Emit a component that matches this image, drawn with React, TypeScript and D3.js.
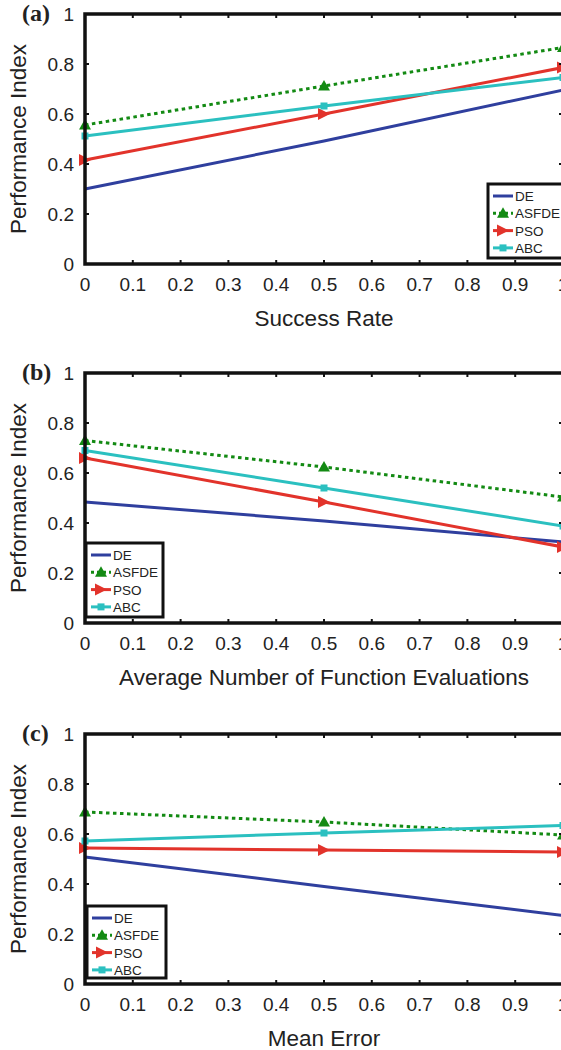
import React from "react";
import * as d3 from "d3";

const xs = [0, 0.5, 1];
const seriesNames = ["DE", "ASFDE", "PSO", "ABC"];
const colors = ["#2f3f9e", "#138a13", "#e2332b", "#2bc0c0"];

const panelA_DE = [0.3, 0.492, 0.696];
const panelA_ASFDE = [0.556, 0.712, 0.866];
const panelA_PSO = [0.416, 0.6, 0.786];
const panelA_ABC = [0.512, 0.632, 0.746];

const panelB_DE = [0.484, 0.408, 0.324];
const panelB_ASFDE = [0.73, 0.624, 0.504];
const panelB_PSO = [0.66, 0.484, 0.304];
const panelB_ABC = [0.69, 0.54, 0.388];

const panelC_DE = [0.508, 0.39, 0.274];
const panelC_ASFDE = [0.688, 0.648, 0.596];
const panelC_PSO = [0.544, 0.536, 0.528];
const panelC_ABC = [0.572, 0.604, 0.634];

const xTicks = [0, 0.1, 0.2, 0.3, 0.4, 0.5, 0.6, 0.7, 0.8, 0.9, 1];
const yTicks = [0, 0.2, 0.4, 0.6, 0.8, 1];

const panels = [
  { label: "(a)", xTitle: "Success Rate", data: [panelA_DE, panelA_ASFDE, panelA_PSO, panelA_ABC], top: 14, legend: { x: 488, y: 184, w: 90, h: 74 } },
  { label: "(b)", xTitle: "Average Number of Function Evaluations", data: [panelB_DE, panelB_ASFDE, panelB_PSO, panelB_ABC], top: 373, legend: { x: 86, y: 543, w: 77, h: 74 } },
  { label: "(c)", xTitle: "Mean Error", data: [panelC_DE, panelC_ASFDE, panelC_PSO, panelC_ABC], top: 734, legend: { x: 87, y: 906, w: 79, h: 72 } },
];

const X0 = 85;
const X1 = 563;
const H = 250;

function Marker({ kind, x, y, color }: { kind: number; x: number; y: number; color: string }) {
  if (kind === 1) {
    const s = 6;
    return <path d={`M${x},${y - s} L${x + s},${y + s * 0.75} L${x - s},${y + s * 0.75} Z`} fill={color} />;
  }
  if (kind === 2) {
    const s = 6;
    return <path d={`M${x + s},${y} L${x - s},${y - s} L${x - s},${y + s} Z`} fill={color} />;
  }
  if (kind === 3) {
    return <rect x={x - 3.5} y={y - 3.5} width={7} height={7} fill={color} />;
  }
  return null;
}

function Panel({ p }: { p: (typeof panels)[number] }) {
  const x = d3.scaleLinear().domain([0, 1]).range([X0, X1]);
  const y = d3.scaleLinear().domain([0, 1]).range([p.top + H, p.top]);
  const line = d3
    .line<number>()
    .x((_, i) => x(xs[i]))
    .y((d) => y(d));
  const font = "Liberation Sans, Arial, sans-serif";
  const lg = p.legend;
  return (
    <g>
      {p.data.map((vals, si) => (
        <g key={si}>
          <path
            d={line(vals) || ""}
            fill="none"
            stroke={colors[si]}
            strokeWidth={3}
            strokeDasharray={si === 1 ? "3.5,3.5" : undefined}
          />
          {vals.map((v, i) => (
            <Marker key={i} kind={si} x={x(xs[i])} y={y(v)} color={colors[si]} />
          ))}
        </g>
      ))}
      <rect x={X0} y={p.top} width={X1 - X0} height={H} fill="none" stroke="#111" strokeWidth={3.5} />
      {xTicks.map((t) => (
        <g key={"xt" + t}>
          <line x1={x(t)} x2={x(t)} y1={p.top + H} y2={p.top + H - 4} stroke="#111" strokeWidth={2} />
          <line x1={x(t)} x2={x(t)} y1={p.top} y2={p.top + 4} stroke="#111" strokeWidth={2} />
          <text x={x(t)} y={p.top + H + 27} textAnchor="middle" fontFamily={font} fontSize={19} fill="#222">
            {t === 0 || t === 1 ? String(t) : d3.format(".1f")(t)}
          </text>
        </g>
      ))}
      {yTicks.map((t) => (
        <g key={"yt" + t}>
          <line x1={X0} x2={X0 + 4} y1={y(t)} y2={y(t)} stroke="#111" strokeWidth={2} />
          <line x1={X1} x2={X1 - 4} y1={y(t)} y2={y(t)} stroke="#111" strokeWidth={2} />
          <text x={74} y={y(t) + 7} textAnchor="end" fontFamily={font} fontSize={19} fill="#222">
            {t === 0 || t === 1 ? String(t) : d3.format(".1f")(t)}
          </text>
        </g>
      ))}
      <text x={(X0 + X1) / 2} y={p.top + H + 62} textAnchor="middle" fontFamily={font} fontSize={22.5} fill="#222">
        {p.xTitle}
      </text>
      <text
        transform={`translate(26,${p.top + H / 2}) rotate(-90)`}
        textAnchor="middle"
        fontFamily={font}
        fontSize={22.5}
        fill="#222"
      >
        Performance Index
      </text>
      <text x={22} y={p.top + 7} fontFamily="Liberation Serif, Times New Roman, serif" fontWeight="bold" fontSize={24} fill="#222">
        {p.label}
      </text>
      <rect x={lg.x} y={lg.y} width={lg.w} height={lg.h} fill="#fff" stroke="#111" strokeWidth={3} />
      {seriesNames.map((n, si) => {
        const ly = lg.y + 12 + si * 17.3;
        return (
          <g key={n}>
            <line
              x1={lg.x + 5}
              x2={lg.x + 25}
              y1={ly}
              y2={ly}
              stroke={colors[si]}
              strokeWidth={3}
              strokeDasharray={si === 1 ? "3,3" : undefined}
            />
            <Marker kind={si} x={lg.x + 15} y={ly} color={colors[si]} />
            <text x={lg.x + 27} y={ly + 5} fontFamily={font} fontSize={13.5} fill="#222">
              {n}
            </text>
          </g>
        );
      })}
    </g>
  );
}

export default function App() {
  return (
    <svg width={561} height={1050} style={{ position: "absolute", left: 0, top: 0, background: "#fff" }}>
      <rect width={561} height={1050} fill="#fff" />
      {panels.map((p) => (
        <Panel key={p.label} p={p} />
      ))}
    </svg>
  );
}
